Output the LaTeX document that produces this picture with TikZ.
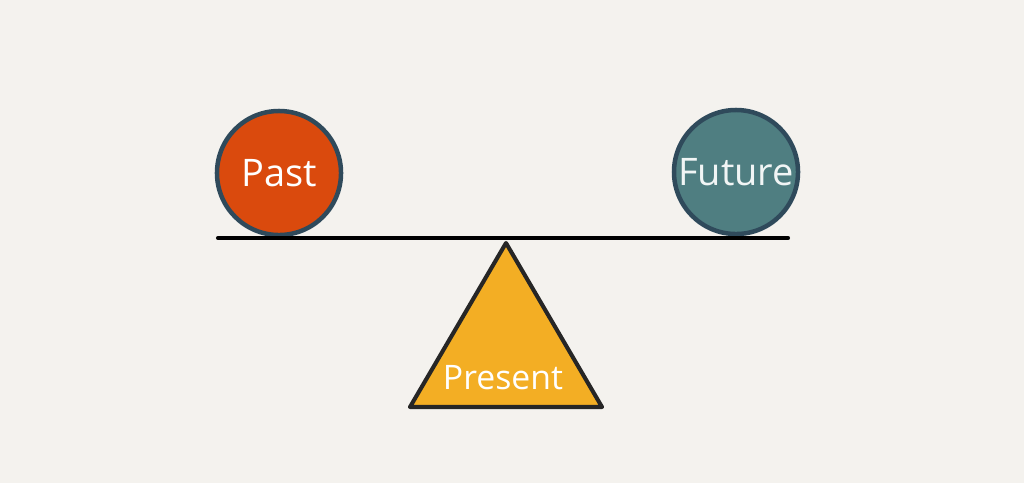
\documentclass[tikz,border=0pt]{standalone}
\usepackage{fontspec}
\setmainfont{Open Sans}
\usepackage{tikz}
\definecolor{paper}{HTML}{F4F2EE}
\definecolor{pastred}{HTML}{DA4A0D}
\definecolor{futureteal}{HTML}{4F7E81}
\definecolor{rim}{HTML}{2F4A5B}
\definecolor{presentyellow}{HTML}{F3AE24}

\begin{document}
\begin{tikzpicture}[x=0.025cm,y=-0.025cm,
    ball/.style={circle,draw=rim,line width=3.2pt,minimum size=3.1cm,inner sep=0pt},
    word/.style={text=white,font=\fontsize{27}{32}\selectfont}]
  % ---------------- canvas
  \fill[paper] (0,0) rectangle (1024,483);
  \useasboundingbox (0,0) rectangle (1024,483);
  % ---------------- the two balls
  \node[ball,fill=pastred,word] (past) at (279,173) {Past};
  \node[ball,fill=futureteal,word,text=white!92!futureteal] (future) at (736,172) {Future};
  % ---------------- beam
  \coordinate (beamL) at (218,238);
  \coordinate (beamR) at (788,238);
  \draw[line width=2.9pt,line cap=round] (beamL) -- (beamR);
  % ---------------- pivot
  \coordinate (apex) at (506,243);
  \coordinate (baseL) at (410,407);
  \coordinate (baseR) at (602,407);
  \filldraw[fill=presentyellow,draw=black!85,line width=2.9pt,line join=round]
    (apex) -- (baseL) -- (baseR) -- cycle;
  \node[word,font=\fontsize{24}{28}\selectfont] (present) at (503,378) {Present};
\end{tikzpicture}
\end{document}
